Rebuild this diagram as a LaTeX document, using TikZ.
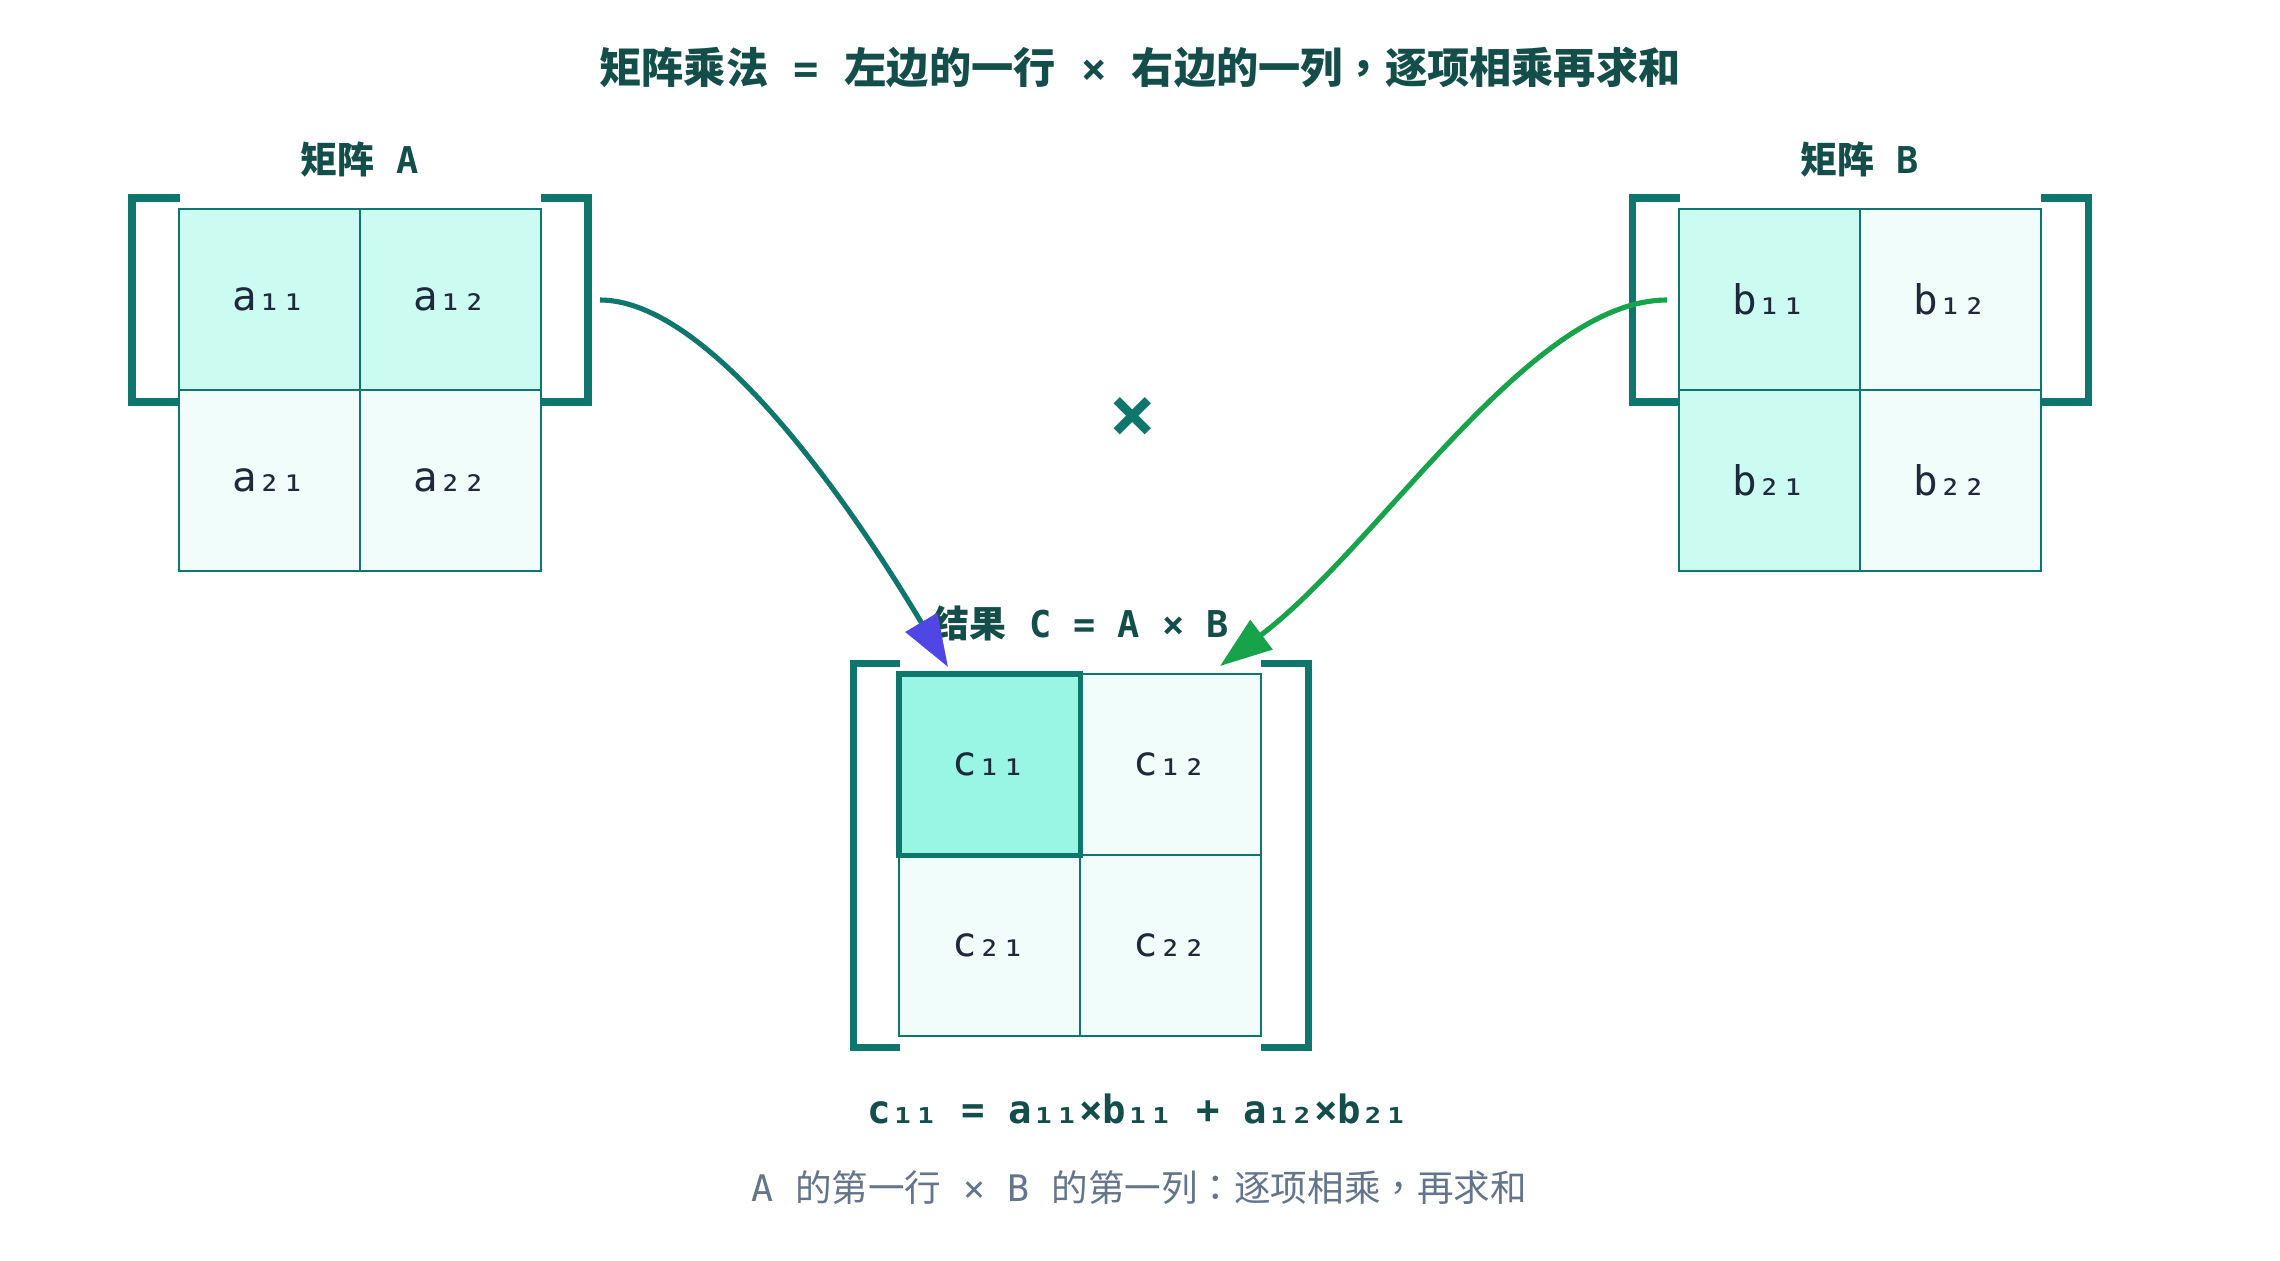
\documentclass[tikz,border=0pt]{standalone}
\usepackage{fontspec}
\setmainfont{Noto Sans CJK SC}
\newfontfamily\mono{DejaVu Sans Mono}
\newfontfamily\punct{Noto Sans CJK TC}
\usetikzlibrary{arrows.meta}

\definecolor{tealline}{HTML}{0F766E}
\definecolor{tealdark}{HTML}{134E4A}
\definecolor{tealhi}{HTML}{CCFBF1}
\definecolor{teallo}{HTML}{F0FDFA}
\definecolor{tealmid}{HTML}{99F6E4}
\definecolor{ink}{HTML}{1E293B}
\definecolor{slate}{HTML}{64748B}
\definecolor{arrowblue}{HTML}{4F46E5}
\definecolor{arrowgreen}{HTML}{16A34A}

\begin{document}
\begin{tikzpicture}[
	x=0.01cm, y=-0.01cm,
	line width=0.75pt,
	cell/.style={draw=tealline, line width=0.75pt, minimum size=1.81cm, inner sep=0pt,
		text=ink, font=\mono\fontsize{11.6}{11.6}\selectfont},
	cellhi/.style={cell, fill=tealhi},
	celllo/.style={cell, fill=teallo},
	cellsum/.style={cell, fill=tealmid, line width=1.45pt},
	bracket/.style={draw=tealline, line width=2pt},
	label/.style={text=tealdark, font=\fontsize{10.5}{10.5}\selectfont\bfseries},
	flowA/.style={draw=tealline, line width=1.45pt, -{Triangle[length=5.2mm, width=3.6mm, color=arrowblue]}},
	flowB/.style={draw=arrowgreen, line width=1.45pt, -{Triangle[length=5.2mm, width=3.6mm]}}
	]
	% canvas
\fill[white] (0,0) rectangle (2280,1260);
\useasboundingbox (0,0) rectangle (2280,1260);

\node[text=tealdark, font=\fontsize{12}{12}\selectfont\bfseries] (title) at (1140, 68)
	{矩阵乘法{\mono\ =\ }左边的一行{\mono\ ×\ }右边的一列{\punct ，}逐项相乘再求和};

% matrix A
			\node[label] (lbl_a) at (360, 160) {矩阵{\mono\ A}};
			\node[cellhi] (a_1_1) at (269.5, 299.5) {a₁₁};
			\node[cellhi] (a_1_2) at (450.5, 299.5) {a₁₂};
			\node[celllo] (a_2_1) at (269.5, 480.5) {a₂₁};
			\node[celllo] (a_2_2) at (450.5, 480.5) {a₂₂};
			\draw[bracket] (180, 198) -- (132, 198) -- (132, 402) -- (180, 402);
			\draw[bracket] (541, 198) -- (588, 198) -- (588, 402) -- (541, 402);

% matrix B
			\node[label] (lbl_b) at (1860, 160) {矩阵{\mono\ B}};
			\node[cellhi] (b_1_1) at (1769.5, 299.5) {b₁₁};
			\node[celllo] (b_1_2) at (1950.5, 299.5) {b₁₂};
			\node[cellhi] (b_2_1) at (1769.5, 480.5) {b₂₁};
			\node[celllo] (b_2_2) at (1950.5, 480.5) {b₂₂};
			\draw[bracket] (1680, 198) -- (1632, 198) -- (1632, 402) -- (1680, 402);
			\draw[bracket] (2041, 198) -- (2088, 198) -- (2088, 402) -- (2041, 402);

\node[text=tealline, font=\mono\fontsize{22}{22}\selectfont\bfseries] (times) at (1133, 419) {×};

% matrix C
			\node[label] (lbl_c) at (1081, 623) {结果{\mono\ C = A × B}};
			\node[celllo] (c_1_2) at (1170.5, 764.5) {c₁₂};
			\node[celllo] (c_2_1) at (989.5, 945.5) {c₂₁};
			\node[celllo] (c_2_2) at (1170.5, 945.5) {c₂₂};
			\node[cellsum] (c_1_1) at (989.5, 764.5) {c₁₁};
			\draw[bracket] (900, 663) -- (853, 663) -- (853, 1047) -- (900, 1047);
			\draw[bracket] (1261, 663) -- (1308, 663) -- (1308, 1047) -- (1261, 1047);

% row of A and column of B into c11
			\coordinate (a_out) at (600, 300);
			\coordinate (b_out) at (1667, 300);
			\coordinate (c_in_a) at (948, 667);
			\coordinate (c_in_b) at (1220, 666);
			\draw[flowA] (a_out) .. controls (700, 300) and (830, 470) .. (c_in_a);
			\draw[flowB] (b_out) .. controls (1530, 300) and (1380, 545) .. (c_in_b);

\node[text=tealdark, font=\mono\fontsize{11.1}{11.1}\selectfont\bfseries] (formula) at (1138, 1109)
	{c₁₁ = a₁₁×b₁₁ + a₁₂×b₂₁};
\node[text=slate, font=\fontsize{10.4}{10.4}\selectfont] (caption) at (1139, 1188)
	{{\mono A\ }的第一行{\mono\ ×\ B\ }的第一列{\punct ：}逐项相乘{\punct ，}再求和};

\end{tikzpicture}
\end{document}
